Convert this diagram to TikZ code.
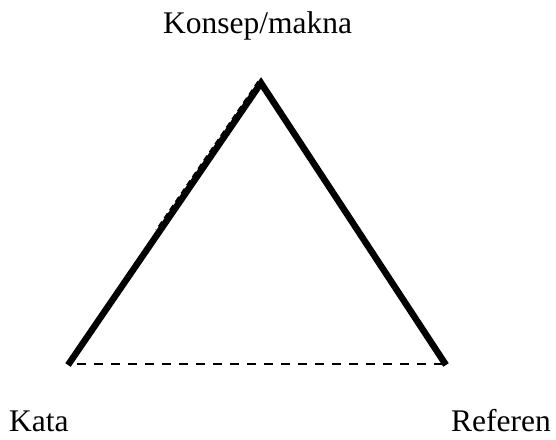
\documentclass[tikz,border=0pt]{standalone}
\usepackage{fontspec}
\setmainfont{Liberation Serif}
\begin{document}
\begin{tikzpicture}[x=1pt,y=-1pt,
  lbl/.style={inner sep=0pt,font=\fontsize{31.5}{36}\selectfont},
  side/.style={line width=6.5pt,line cap=butt,line join=miter},
  dashline/.style={line width=2.5pt,dash pattern=on 9pt off 8pt}]
\useasboundingbox (0,0) rectangle (556,439);
\coordinate (top) at (261,83);
\coordinate (left) at (68,365);
\coordinate (right) at (446,365);
\coordinate (dl1) at (77,364);
\coordinate (dr1) at (442,364);
\coordinate (dtop) at (258.3,81.5);
\coordinate (dend) at (156.2,230.3);
\node[lbl,anchor=base west] (konsep) at (163,33) {Konsep/makna};
\node[lbl,anchor=base west] (kata) at (9,431) {Kata};
\node[lbl,anchor=base west] (referen) at (451,431) {Referen};
\draw[side] (left) -- (top) -- (right);
\draw[dashline] (dl1) -- (dr1);
\draw[line width=2pt,dash pattern=on 6pt off 4pt] (dtop) -- (dend);
\end{tikzpicture}
\end{document}
